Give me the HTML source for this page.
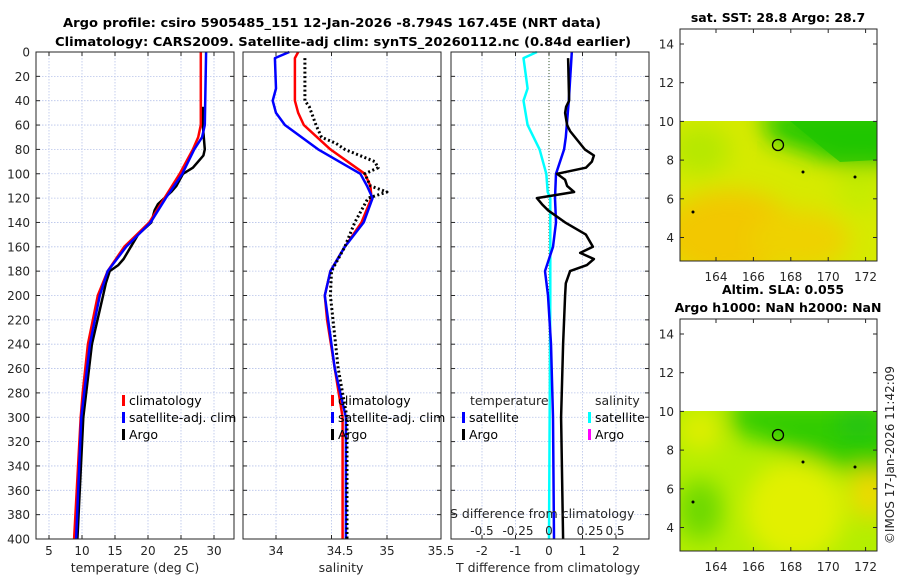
<!DOCTYPE html>
<html><head><meta charset="utf-8"><style>
html,body{margin:0;padding:0;background:#fff}
svg{display:block;font-family:"DejaVu Sans","Liberation Sans",sans-serif}
.t{font-size:12px;fill:#262626}
.b{font-size:12.5px;font-weight:bold;fill:#000}
</style></head><body>
<svg id="fig" width="900" height="580" viewBox="0 0 900 580">
<defs>
<filter id="bl" x="-50%" y="-50%" width="200%" height="200%"><feGaussianBlur stdDeviation="12"/></filter>
<clipPath id="c1"><rect x="680" y="121" width="197" height="140"/></clipPath>
<clipPath id="c2"><rect x="680" y="411" width="197" height="140"/></clipPath>
</defs>
<text class="b" x="332" y="27" text-anchor="middle" textLength="538" lengthAdjust="spacingAndGlyphs">Argo profile: csiro 5905485_151 12-Jan-2026 -8.794S 167.45E (NRT data)</text>
<text class="b" x="343" y="46" text-anchor="middle" textLength="576" lengthAdjust="spacingAndGlyphs">Climatology: CARS2009. Satellite-adj clim: synTS_20260112.nc (0.84d earlier)</text>
<g id="p1"></g>
<g id="p2"></g>
<g id="p3"></g>

<g>
<text class="b" x="778" y="22" text-anchor="middle">sat. SST: 28.8 Argo: 28.7</text>
<g clip-path="url(#c1)">
<rect x="680" y="121" width="197" height="140" fill="#d6ea00"/>
<g filter="url(#bl)">
<ellipse cx="730" cy="235" rx="70" ry="45" fill="#f2c800"/>
<ellipse cx="800" cy="240" rx="50" ry="30" fill="#eed200"/>
<ellipse cx="700" cy="150" rx="30" ry="25" fill="#b6e800"/>
<polygon points="760,110 900,110 900,165 840,165 800,150 770,140" fill="#22c800"/>
<ellipse cx="860" cy="190" rx="25" ry="20" fill="#c4ec00"/>
</g>
<polygon points="790,121 877,121 877,160 840,162 825,150" fill="#1ec400" opacity="0.7"/>
</g>
<rect x="680" y="29" width="197" height="232" fill="none" stroke="#262626" stroke-width="1"/>
<circle cx="778" cy="145" r="5.5" fill="none" stroke="#000" stroke-width="1.3"/>
<circle cx="693" cy="212" r="1.5" fill="#000"/><circle cx="803" cy="172" r="1.5" fill="#000"/><circle cx="855" cy="177" r="1.5" fill="#000"/>
<g id="m1ax"></g>
</g>
<g>
<text class="b" x="783" y="294" text-anchor="middle">Altim. SLA: 0.055</text>
<text class="b" x="778" y="312" text-anchor="middle">Argo h1000: NaN h2000: NaN</text>
<g clip-path="url(#c2)">
<rect x="680" y="411" width="197" height="140" fill="#b4ee00"/>
<g filter="url(#bl)">
<ellipse cx="795" cy="510" rx="50" ry="50" fill="#e2f000"/>
<ellipse cx="700" cy="430" rx="22" ry="20" fill="#e0ee00"/>
<ellipse cx="870" cy="490" rx="18" ry="30" fill="#f2d800"/>
<ellipse cx="700" cy="510" rx="22" ry="30" fill="#6cd800"/>
<polygon points="730,400 900,400 900,470 840,470 800,455 760,440 730,430" fill="#30cc00"/>
</g>
<rect x="840" y="411" width="37" height="25" fill="#10b830" opacity="0.5" filter="url(#bl)"/>
</g>
<rect x="680" y="319" width="197" height="232" fill="none" stroke="#262626" stroke-width="1"/>
<circle cx="778" cy="435" r="5.5" fill="none" stroke="#000" stroke-width="1.3"/>
<circle cx="693" cy="502" r="1.5" fill="#000"/><circle cx="803" cy="462" r="1.5" fill="#000"/><circle cx="855" cy="467" r="1.5" fill="#000"/>
<g id="m2ax"></g>
</g>
<text class="t" transform="translate(894,455) rotate(-90)" text-anchor="middle">©IMOS 17-Jan-2026 11:42:09</text>
</svg>
<script>
const depthTicks=[0,20,40,60,80,100,120,140,160,180,200,220,240,260,280,300,320,340,360,380,400];
const tempTicks=[5,10,15,20,25,30];
const salTicks=[34,34.5,35,35.5];
const tdiffTicks=[-2,-1,0,1,2];
const sdiffTicks=[-0.5,-0.25,0,0.25,0.5];
const tClimDepth=[0,60,70,80,100,120,140,160,180,200,240,280,300,400];
const tClimVal=[28.0,28.0,27.6,26.8,24.8,22.5,20.2,16.4,13.9,12.4,10.9,10.1,9.8,8.8];
const tSatDepth=[0,60,70,80,100,120,140,160,180,200,240,300,400];
const tSatVal=[28.8,28.6,28.2,27.0,25.2,22.7,20.4,16.7,13.9,12.7,11.2,9.9,9.1];
const tArgoDepth=[45,60,80,85,90,95,100,110,115,120,125,130,140,150,160,170,175,180,190,200,240,300,400];
const tArgoVal=[28.3,28.3,28.6,28.4,27.6,26.8,25.3,24.3,23.5,22.5,21.5,21.0,20.5,18.5,17.4,16.3,15.5,14.2,13.6,13.2,11.5,10.2,9.3];
const sClimDepth=[0,5,40,50,60,80,100,110,120,140,160,180,200,220,260,300,400];
const sClimVal=[34.20,34.17,34.17,34.20,34.25,34.49,34.80,34.85,34.86,34.77,34.62,34.49,34.44,34.46,34.53,34.60,34.60];
const sSatDepth=[0,5,30,40,50,60,80,100,110,120,140,160,180,200,260,300,400];
const sSatVal=[34.12,33.99,34.00,33.97,34.00,34.08,34.38,34.76,34.82,34.87,34.79,34.62,34.49,34.44,34.53,34.63,34.63];
const sArgoDepth=[5,40,45,60,70,75,80,90,95,100,110,115,120,140,160,180,200,260,300,400];
const sArgoVal=[34.26,34.26,34.30,34.36,34.41,34.54,34.62,34.89,34.92,34.80,34.85,35.00,34.83,34.71,34.62,34.50,34.49,34.56,34.64,34.64];
const dTSatDepth=[0,40,70,80,100,120,140,160,180,200,240,300,400];
const dTSatVal=[0.68,0.59,0.50,0.45,0.21,0.18,0.21,0.12,-0.12,-0.03,0.06,0.12,0.15];
const dTArgoDepth=[5,40,45,50,60,65,80,85,90,95,100,105,110,115,120,125,130,140,150,160,165,170,175,180,190,200,240,300,400];
const dTArgoVal=[0.57,0.60,0.51,0.48,0.54,0.63,1.07,1.34,1.28,1.10,0.24,0.48,0.54,0.75,-0.36,-0.21,-0.03,0.48,1.10,1.31,0.93,1.34,1.13,0.63,0.50,0.48,0.42,0.36,0.42];
const dSSatDepth=[0,5,30,40,60,80,100,115,120,140,160,200,400];
const dSSatVal=[-0.09,-0.19,-0.16,-0.19,-0.16,-0.07,-0.02,-0.01,0.01,0.01,0.01,0.01,0.0];

const NS='http://www.w3.org/2000/svg';
const Y0=52,Y1=539;
const yD=d=>Y0+(d/400)*(Y1-Y0);
function mk(tag,attrs,parent){const e=document.createElementNS(NS,tag);for(const k in attrs)e.setAttribute(k,attrs[k]);parent.appendChild(e);return e;}
function panel(g,x0,x1,xs,ticks,labels,showY){
  depthTicks.forEach((d,i)=>{
    if(i>0&&i<depthTicks.length-1){const l=mk('line',{x1:x0,x2:x1,y1:yD(d),y2:yD(d),stroke:'#b7c3ea','stroke-width':0.8,'stroke-dasharray':'1.5,1.5'},g);
    }
    mk('line',{x1:x0,x2:x0+4,y1:yD(d),y2:yD(d),stroke:'#262626'},g);
    mk('line',{x1:x1-4,x2:x1,y1:yD(d),y2:yD(d),stroke:'#262626'},g);
    if(showY){const t=mk('text',{x:x0-6,y:yD(d)+4.5,'text-anchor':'end',class:'t'},g);t.textContent=d;
    }
  });
  ticks.forEach((v,i)=>{const x=xs(v);
    if(x>x0+1&&x<x1-1){const l=mk('line',{x1:x,x2:x,y1:Y0,y2:Y1,stroke:'#b7c3ea','stroke-width':0.8,'stroke-dasharray':'1.5,1.5'},g);
    
    mk('line',{x1:x,x2:x,y1:Y0,y2:Y0+4,stroke:'#262626'},g);mk('line',{x1:x,x2:x,y1:Y1-4,y2:Y1,stroke:'#262626'},g);}
    if(labels){const t=mk('text',{x:x,y:555,'text-anchor':'middle',class:'t'},g);t.textContent=labels[i];
    }
  });
}
function frame(g,x0,x1){const r=mk('rect',{x:x0,y:Y0,width:x1-x0,height:Y1-Y0,fill:'none',stroke:'#262626','stroke-width':1},g);
}
function series(g,ds,vs,xs,col,w,dash,name){
  const pts=ds.map((d,i)=>xs(vs[i]).toFixed(1)+','+yD(d).toFixed(1)).join(' ');
  const p=mk('polyline',{points:pts,fill:'none',stroke:col,'stroke-width':w,'stroke-linejoin':'round'},g);
  if(dash)p.setAttribute('stroke-dasharray',dash);
  
}
function legend(g,x,y,col,label){
  const b=mk('rect',{x:x,y:y-10,width:3,height:11,fill:col},g);
  
  const t=mk('text',{x:x+7,y:y,class:'t',style:'font-size:12.5px;fill:#000'},g);t.textContent=label;
  
}
function txt(g,x,y,s,anchor,name){const t=mk('text',{x:x,y:y,class:'t','text-anchor':anchor||'start',style:'font-size:12.5px'},g);t.textContent=s;
}

const g1=document.getElementById('p1');
const xT=v=>49+(v-5)*6.6;
panel(g1,36,234,xT,tempTicks,tempTicks.map(String),true);
series(g1,tArgoDepth,tArgoVal,xT,'#000',2.5,null,'temp-argo-line');
series(g1,tClimDepth,tClimVal,xT,'#f00',2.5,null,'temp-climatology-line');
series(g1,tSatDepth,tSatVal,xT,'#00f',2.5,null,'temp-satellite-line');
frame(g1,36,234);
legend(g1,122,405,'#f00','climatology');legend(g1,122,422,'#00f','satellite-adj. clim');legend(g1,122,439,'#000','Argo');
txt(g1,135,572,'temperature (deg C)','middle','temperature-axis-title');

const g2=document.getElementById('p2');
const xS=v=>276+(v-34)*111;
panel(g2,243,441,xS,salTicks,null,false);
[['34',276],['34.5',340],['35',387],['35.5',441]].forEach(a=>{const t=mk('text',{x:a[1],y:555,'text-anchor':'middle',class:'t'},g2);t.textContent=a[0];
});
series(g2,sClimDepth,sClimVal,xS,'#f00',2.5,null,'sal-climatology-line');
series(g2,sSatDepth,sSatVal,xS,'#00f',2.5,null,'sal-satellite-line');
series(g2,sArgoDepth,sArgoVal,xS,'#000',3,'2,2.5','sal-argo-line');
frame(g2,243,441);
legend(g2,331,405,'#f00','climatology');legend(g2,331,422,'#00f','satellite-adj. clim');legend(g2,331,439,'#000','Argo');
txt(g2,341,572,'salinity','middle','salinity-axis-title');

const g3=document.getElementById('p3');
const xDT=v=>549+v*33.5;
const xDS=v=>549+v*134;
panel(g3,451,649,xDT,tdiffTicks,tdiffTicks.map(String),false);
const z=mk('line',{x1:549,x2:549,y1:Y0,y2:Y1,stroke:'#3a5a2a','stroke-width':1,'stroke-dasharray':'1,2'},g3);

series(g3,dSSatDepth,dSSatVal,xDS,'#00ffff',2.5,null,'sal-diff-satellite-line');
series(g3,dTSatDepth,dTSatVal,xDT,'#00f',2.5,null,'temp-diff-satellite-line');
series(g3,dTArgoDepth,dTArgoVal,xDT,'#000',2.5,null,'temp-diff-argo-line');
frame(g3,451,649);
txt(g3,470,405,'temperature','start','legend-temperature-header');
txt(g3,595,405,'salinity','start','legend-salinity-header');
legend(g3,462,422,'#00f','satellite');legend(g3,462,439,'#000','Argo');
legend(g3,588,422,'#00ffff','satellite');legend(g3,588,439,'#ff00ff','Argo');
txt(g3,450,518,'S difference from climatology','start','s-diff-axis-title');
[['-0.5',482],['-0.25',518],['0',549],['0.25',590],['0.5',615]].forEach(a=>{const t=mk('text',{x:a[1],y:535,'text-anchor':'middle',class:'t'},g3);t.textContent=a[0];
});
txt(g3,548,572,'T difference from climatology','middle','t-diff-axis-title');

const latTicks=[4,6,8,10,12,14];
const lonTicks=[164,166,168,170,172];
function mapAxes(id,top){
  const g=document.getElementById(id);
  const yl=v=>top+15+(14-v)*19.35;
  const xl=v=>716+(v-164)*18.7;
  latTicks.forEach(v=>{const y=yl(v);
    mk('line',{x1:680,x2:684,y1:y,y2:y,stroke:'#262626'},g);mk('line',{x1:873,x2:877,y1:y,y2:y,stroke:'#262626'},g);
    const t=mk('text',{x:674,y:y+4.5,'text-anchor':'end',class:'t'},g);t.textContent=v;
    });
  lonTicks.forEach(v=>{const x=xl(v);
    mk('line',{x1:x,x2:x,y1:top,y2:top+4,stroke:'#262626'},g);mk('line',{x1:x,x2:x,y1:top+228,y2:top+232,stroke:'#262626'},g);
    const t=mk('text',{x:x,y:top+252,'text-anchor':'middle',class:'t'},g);t.textContent=v;
    });
}
mapAxes('m1ax',29);mapAxes('m2ax',319);
</script>
</body></html>
